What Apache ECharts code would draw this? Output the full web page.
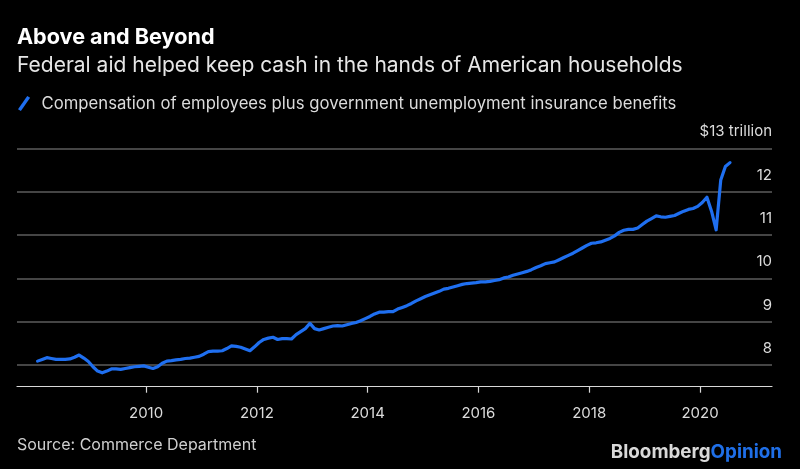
<!DOCTYPE html>
<html>
<head>
<meta charset="utf-8">
<script src="https://cdn.jsdelivr.net/npm/echarts@6/dist/echarts.min.js"></script>
<style>
html,body{margin:0;padding:0;background:#000;}
#chart{width:800px;height:469px;}
</style>
</head>
<body>
<div id="chart"></div>
<script>
// Monthly series, Jan 2008 .. Jul 2020, $ trillions (annualized)
const startYear = 2008;
const seriesName = 'Compensation of employees plus government unemployment insurance benefits';
const values = [
  8.09, 8.13, 8.17, 8.15, 8.13, 8.13, 8.13, 8.14, 8.18, 8.23, 8.16, 8.08,
  7.96, 7.86, 7.82, 7.86, 7.91, 7.91, 7.90, 7.92, 7.94, 7.96, 7.97, 7.98,
  7.95, 7.92, 7.96, 8.04, 8.09, 8.10, 8.12, 8.13, 8.15, 8.16, 8.18, 8.20,
  8.25, 8.31, 8.32, 8.32, 8.33, 8.38, 8.44, 8.43, 8.41, 8.37, 8.33, 8.42,
  8.52, 8.59, 8.62, 8.64, 8.59, 8.61, 8.61, 8.60, 8.70, 8.77, 8.84, 8.96,
  8.84, 8.81, 8.84, 8.87, 8.90, 8.91, 8.90, 8.93, 8.96, 8.98, 9.02, 9.07,
  9.12, 9.18, 9.22, 9.22, 9.23, 9.23, 9.29, 9.33, 9.37, 9.42, 9.48, 9.53,
  9.58, 9.62, 9.66, 9.70, 9.75, 9.77, 9.80, 9.83, 9.86, 9.88, 9.89, 9.90,
  9.92, 9.92, 9.93, 9.95, 9.97, 10.01, 10.03, 10.07, 10.10, 10.13, 10.16, 10.20,
  10.25, 10.29, 10.34, 10.36, 10.38, 10.43, 10.48, 10.53, 10.58, 10.64, 10.70, 10.76,
  10.81, 10.82, 10.84, 10.88, 10.92, 10.98, 11.06, 11.11, 11.13, 11.13, 11.16, 11.24,
  11.32, 11.38, 11.44, 11.42, 11.41, 11.43, 11.45, 11.50, 11.55, 11.59, 11.61, 11.66,
  11.75, 11.87, 11.55, 11.12, 12.27, 12.58, 12.67
];
const xTicks = [2010, 2012, 2014, 2016, 2018, 2020];
const yTicks = [8, 9, 10, 11, 12, 13];
const yUnitLabel = '$13 trillion';

const data = values.map((v, i) => [startYear + (i + 0.5) / 12, v]);

const chart = echarts.init(document.getElementById('chart'), null, {renderer: 'canvas'});
const FONT = 'Inter, "Liberation Sans", Arial, sans-serif';
chart.setOption({
  backgroundColor: '#000',
  animation: false,
  textStyle: {fontFamily: FONT},
  title: [
    {text: 'Above and Beyond', left: 17, top: 26, padding: 0,
     textStyle: {color: '#fff', fontSize: 21.6, fontWeight: 'bold', fontFamily: FONT}},
    {text: 'Federal aid helped keep cash in the hands of American households', left: 17, top: 55, padding: 0,
     textStyle: {color: '#e6e6e6', fontSize: 21, fontWeight: 'normal', fontFamily: FONT}},
    {text: 'Source: Commerce Department', left: 17, top: 437, padding: 0,
     textStyle: {color: '#cfcfcf', fontSize: 16, fontWeight: 'normal', fontFamily: FONT}}
  ],
  legend: {
    left: 13, top: 90, itemWidth: 13, itemHeight: 15, itemGap: 10,
    icon: 'path://M1,13 L9,1.5 L11.5,3 L3.5,14.5 Z',
    textStyle: {color: '#dcdcdc', fontSize: 16.7, fontFamily: FONT, padding: [0, 0, 0, 6]},
    data: [seriesName]
  },
  graphic: [{
    type: 'text', right: 18, top: 443,
    style: {
      text: '{a|Bloomberg}{b|Opinion}',
      rich: {
        a: {fill: '#d9d9d9', fontSize: 18.8, fontWeight: 'bold', fontFamily: FONT},
        b: {fill: '#1f6fe8', fontSize: 18.8, fontWeight: 'bold', fontFamily: FONT}
      }
    }
  }],
  grid: {left: 17, right: 28, top: 148.3, bottom: 82.3, containLabel: false},
  xAxis: {
    type: 'value', min: 2007.67, max: 2021.30,
    axisLine: {show: true, lineStyle: {color: '#d8d8d8', width: 1.2}},
    axisTick: {show: true, length: 6, customValues: xTicks, lineStyle: {color: '#d8d8d8', width: 1.2}},
    axisLabel: {customValues: xTicks, color: '#dcdcdc', fontSize: 15, margin: 19, fontFamily: FONT,
      formatter: v => String(Math.round(v))},
    splitLine: {show: false}
  },
  yAxis: {
    type: 'value', position: 'right', min: 7.5, max: 13,
    axisLine: {show: false},
    axisTick: {show: false, customValues: yTicks},
    axisLabel: {customValues: yTicks, inside: true, margin: 0, color: '#dcdcdc', fontSize: 15,
      fontFamily: FONT, verticalAlign: 'bottom', padding: [0, 0, 9, 0],
      formatter: v => (Math.round(v) === 13 ? yUnitLabel : String(Math.round(v)))},
    splitLine: {show: true, lineStyle: {color: '#5c5c5c', width: 1.5}}
  },
  series: [{
    name: seriesName, type: 'line', data: data, showSymbol: false, symbol: 'none',
    lineStyle: {color: '#1f6ff0', width: 3.2, cap: 'round', join: 'round'},
    itemStyle: {color: '#1f6ff0'},
    clip: false
  }]
});
</script>
</body>
</html>
